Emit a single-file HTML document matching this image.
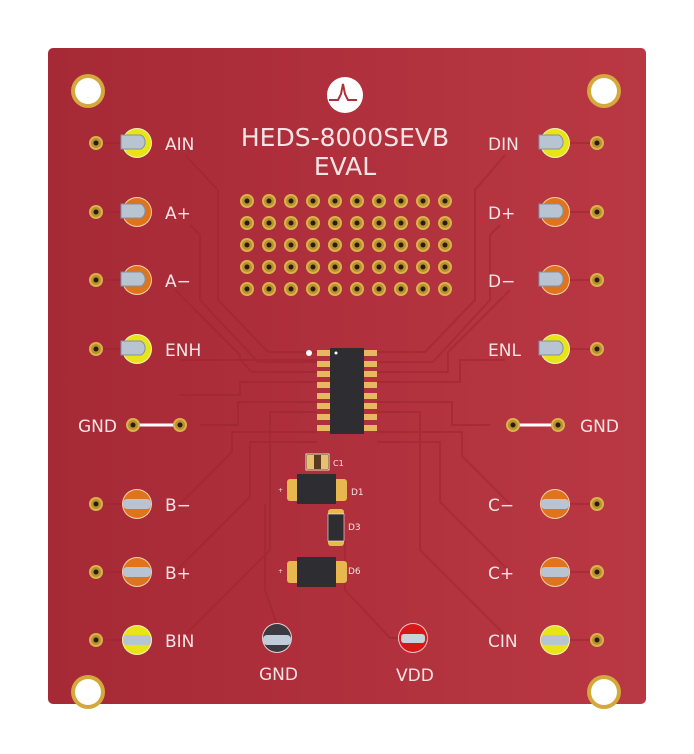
<!DOCTYPE html>
<html><head><meta charset="utf-8"><style>
html,body{margin:0;padding:0;background:#fff;width:694px;height:754px;overflow:hidden}
svg{display:block}
text{font-family:"DejaVu Sans","Liberation Sans",sans-serif;fill:#f4e4e4}
</style></head><body>
<svg width="694" height="754" viewBox="0 0 694 754" xmlns="http://www.w3.org/2000/svg">
<defs>
<linearGradient id="bg" x1="0" y1="0" x2="1" y2="0">
<stop offset="0" stop-color="#a62936"/><stop offset="1" stop-color="#b93843"/>
</linearGradient>
<g id="via"><circle r="7" fill="#d9b24a"/><circle r="5" fill="#b8902e"/><circle r="2.5" fill="#2a1a10"/></g>
<g id="hole"><circle r="17" fill="#d4a93c"/><circle r="13" fill="#fff"/></g>
<g id="tpY"><circle r="15" fill="#f8f4b0"/><circle r="14" fill="#e8e418"/><path d="M-16,-8 h20 a8,8 0 0 1 0,14 h-20 z" fill="#b8c4d2" stroke="#8090a4" stroke-width="1"/></g>
<g id="tpO"><circle r="15" fill="#f6d0a8"/><circle r="14" fill="#e0741c"/><path d="M-16,-8 h20 a8,8 0 0 1 0,14 h-20 z" fill="#b8c4d2" stroke="#8090a4" stroke-width="1"/></g>
<g id="tpYr"><circle r="15" fill="#f8f4b0"/><circle r="14" fill="#e8e418"/><rect x="-14" y="-5" width="28" height="10" rx="4" fill="#b8c4d2"/></g>
<g id="tpOr"><circle r="15" fill="#f6d0a8"/><circle r="14" fill="#e0741c"/><rect x="-14" y="-5" width="28" height="10" rx="4" fill="#b8c4d2"/></g>
</defs>
<rect x="48" y="48" width="598" height="656" rx="5" fill="url(#bg)"/>
<!-- traces -->
<g stroke="#9c2431" stroke-width="2" fill="none" opacity="0.5">
<path d="M96,143 H137 M96,212 H137 M96,280 H137 M96,349 H137 M96,504 H137 M96,572 H137 M96,640 H137"/>
<path d="M555,143 H597 M555,212 H597 M555,280 H597 M555,349 H597 M555,504 H597 M555,572 H597 M555,640 H597"/>
<path d="M185,155 L218,190 V300 L268,352 H317"/>
<path d="M190,225 L200,235 V300 L258,362 H317"/>
<path d="M175,290 L240,355 V360 L252,372 H317"/>
<path d="M180,360 H317 M180,395 H240 V382 H317"/>
<path d="M505,155 L475,190 V300 L425,352 H377"/>
<path d="M500,225 L490,235 V300 L433,362 H377"/>
<path d="M510,290 L448,352 V372 H377"/>
<path d="M505,360 H460 V382 H377 M200,425 H238 V402 H317 M490,425 H452 V402 H377"/>
<path d="M180,504 L232,452 V432 H317 M175,572 L250,497 V442 H317"/>
<path d="M510,504 L462,456 V432 H377 M510,572 L440,502 V442 H377"/>
<path d="M180,640 L270,550 V412 H317 M510,640 L420,550 V412 H377"/>
<path d="M277,625 L265,590 V504 M413,638 H390 L345,590 V540"/>
</g>
<use href="#hole" x="88" y="91"/><use href="#hole" x="604" y="91"/>
<use href="#hole" x="88" y="692"/><use href="#hole" x="604" y="692"/>
<circle cx="345" cy="95" r="18" fill="#fff"/>
<path d="M329,100 h9 l3,-6 l2,-10 l2,10 l3,6 h9" stroke="#b0303a" stroke-width="2" fill="none"/>
<text x="345" y="146" font-size="25" text-anchor="middle">HEDS-8000SEVB</text>
<text x="345" y="175" font-size="25" text-anchor="middle">EVAL</text>
<g id="grid">
<g id="row">
<use href="#via" x="247" y="201"/><use href="#via" x="269" y="201"/><use href="#via" x="291" y="201"/><use href="#via" x="313" y="201"/><use href="#via" x="335" y="201"/><use href="#via" x="357" y="201"/><use href="#via" x="379" y="201"/><use href="#via" x="401" y="201"/><use href="#via" x="423" y="201"/><use href="#via" x="445" y="201"/>
</g>
<use href="#row" y="22"/><use href="#row" y="44"/><use href="#row" y="66"/><use href="#row" y="88"/>
</g>
<g font-size="17">
<use href="#via" x="96" y="143"/><use href="#tpY" x="137" y="143"/><text x="165" y="150">AIN</text>
<use href="#via" x="96" y="212"/><use href="#tpO" x="137" y="212"/><text x="165" y="219">A+</text>
<use href="#via" x="96" y="280"/><use href="#tpO" x="137" y="280"/><text x="165" y="287">A−</text>
<use href="#via" x="96" y="349"/><use href="#tpY" x="137" y="349"/><text x="165" y="356">ENH</text>
<text x="78" y="432">GND</text>
<line x1="133" y1="425" x2="180" y2="425" stroke="#fff" stroke-width="3"/>
<use href="#via" x="133" y="425"/><use href="#via" x="180" y="425"/>
<use href="#via" x="96" y="504"/><use href="#tpOr" x="137" y="504"/><text x="165" y="511">B−</text>
<use href="#via" x="96" y="572"/><use href="#tpOr" x="137" y="572"/><text x="165" y="579">B+</text>
<use href="#via" x="96" y="640"/><use href="#tpYr" x="137" y="640"/><text x="165" y="647">BIN</text>
<use href="#via" x="597" y="143"/><use href="#tpY" x="555" y="143"/><text x="488" y="150">DIN</text>
<use href="#via" x="597" y="212"/><use href="#tpO" x="555" y="212"/><text x="488" y="219">D+</text>
<use href="#via" x="597" y="280"/><use href="#tpO" x="555" y="280"/><text x="488" y="287">D−</text>
<use href="#via" x="597" y="349"/><use href="#tpY" x="555" y="349"/><text x="488" y="356">ENL</text>
<text x="580" y="432">GND</text>
<line x1="513" y1="425" x2="558" y2="425" stroke="#fff" stroke-width="3"/>
<use href="#via" x="513" y="425"/><use href="#via" x="558" y="425"/>
<use href="#via" x="597" y="504"/><use href="#tpOr" x="555" y="504"/><text x="488" y="511">C−</text>
<use href="#via" x="597" y="572"/><use href="#tpOr" x="555" y="572"/><text x="488" y="579">C+</text>
<use href="#via" x="597" y="640"/><use href="#tpYr" x="555" y="640"/><text x="488" y="647">CIN</text>
<circle cx="277" cy="638" r="15" fill="#e0d0d0"/><circle cx="277" cy="638" r="14" fill="#3a3a40"/>
<rect x="263" y="635" width="28" height="10" rx="4" fill="#c0ccd8"/>
<text x="259" y="680">GND</text>
<circle cx="413" cy="638" r="15" fill="#f0c0c0"/><circle cx="413" cy="638" r="14" fill="#d81818"/>
<rect x="401" y="634" width="24" height="9" rx="3" fill="#c8d2dc"/>
<text x="396" y="681">VDD</text>
</g>
<circle cx="309" cy="353" r="3" fill="#fff"/>
<g fill="#e8b860">
<rect x="317" y="350" width="13" height="6"/><rect x="317" y="361" width="13" height="6"/><rect x="317" y="371" width="13" height="6"/><rect x="317" y="382" width="13" height="6"/><rect x="317" y="393" width="13" height="6"/><rect x="317" y="403" width="13" height="6"/><rect x="317" y="414" width="13" height="6"/><rect x="317" y="425" width="13" height="6"/>
<rect x="364" y="350" width="13" height="6"/><rect x="364" y="361" width="13" height="6"/><rect x="364" y="371" width="13" height="6"/><rect x="364" y="382" width="13" height="6"/><rect x="364" y="393" width="13" height="6"/><rect x="364" y="403" width="13" height="6"/><rect x="364" y="414" width="13" height="6"/><rect x="364" y="425" width="13" height="6"/>
</g>
<rect x="330" y="348" width="34" height="86" fill="#2e2e32"/>
<circle cx="336" cy="353" r="1.5" fill="#fff"/>
<rect x="306" y="454" width="23" height="16" fill="#5a3a20" stroke="#f0e0c0" stroke-width="1"/>
<rect x="307" y="455" width="7" height="14" fill="#e8c070"/><rect x="321" y="455" width="7" height="14" fill="#e8c070"/>
<text x="333" y="466" font-size="8">C1</text>
<rect x="287" y="479" width="60" height="22" rx="3" fill="#e8b850"/>
<rect x="297" y="474" width="39" height="30" fill="#2e2e32"/>
<text x="278" y="492" font-size="6">+</text>
<text x="351" y="495" font-size="9">D1</text>
<rect x="328" y="509" width="16" height="37" rx="3" fill="#e8b850"/>
<rect x="328" y="514" width="16" height="27" fill="#2e2e32" stroke="#eee" stroke-width="0.6"/>
<text x="348" y="530" font-size="9">D3</text>
<rect x="287" y="561" width="60" height="22" rx="3" fill="#e8b850"/>
<rect x="297" y="557" width="39" height="30" fill="#2e2e32"/>
<text x="278" y="573" font-size="6">+</text>
<text x="348" y="574" font-size="9">D6</text>
</svg>
</body></html>
